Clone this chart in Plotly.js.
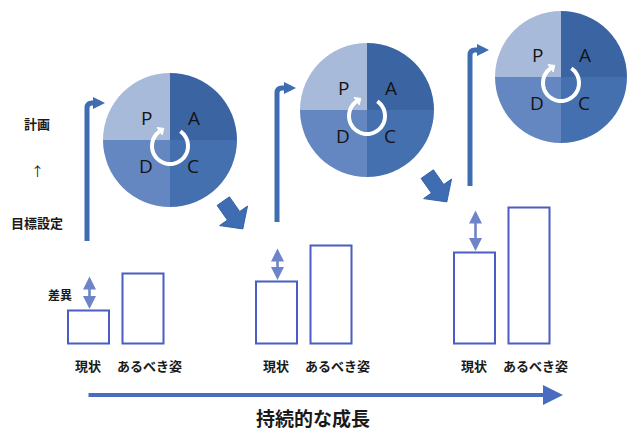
<!DOCTYPE html>
<html><head><meta charset="utf-8">
<script src="https://cdn.plot.ly/plotly-3.0.1.min.js"></script>
<style>html,body{margin:0;padding:0;background:#fff}</style>
</head><body><div id="chart" style="width:627px;height:432px"></div>
<script>
// ---- data ----
const stages = ['1', '2', '3'];
const currentLevel = [33, 62, 91];
const idealLevel = [70, 98, 136];
const barLabels = ['現状', 'あるべき姿'];
const pdcaLabels = ['A', 'C', 'D', 'P'];
const pdcaValues = [1, 1, 1, 1];
const gapLabel = '差異';
const sideLabels = ['計画', '↑', '目標設定'];
const growthLabel = '持続的な成長';

// ---- layout geometry (pixels) ----
const W = 627, H = 432, BASE = 343.5;
const Y = p => BASE - p;
const curX = [88.5, 276.5, 474.5];
const idealX = [143, 331, 529];
const barW = 41;
const pies = [{cx:170, cy:140, r:67}, {cx:367, cy:110, r:67}, {cx:561, cy:77, r:66}];
const bent = [{x:87, bot:241, top:103, end:105}, {x:277, bot:222, top:88, end:296}, {x:470, bot:186, top:50, end:489}];
const blocks = [{cx:233, cy:215}, {cx:437, cy:188}];
const pieColors = ['#3b64a3', '#4570b0', '#6587c1', '#a8bad9'];
const blue = '#3e6db2';
const rectBlue = '#4b5cc2';
const gapBlue = '#6d85c8';
const JP = '"Noto Sans CJK JP", "Noto Sans", sans-serif';

const traces = [
  {type:'bar', x:curX, y:currentLevel, width:barW, name:barLabels[0], text:stages, textposition:'none',
   marker:{color:'#ffffff', line:{color:rectBlue, width:2}}, hoverinfo:'skip'},
  {type:'bar', x:idealX, y:idealLevel, width:barW, name:barLabels[1], text:stages, textposition:'none',
   marker:{color:'#ffffff', line:{color:rectBlue, width:2}}, hoverinfo:'skip'}
];
pies.forEach(p => {
  traces.push({type:'pie', values:pdcaValues, labels:pdcaLabels, sort:false, direction:'clockwise', rotation:0,
    textinfo:'none', hoverinfo:'skip', marker:{colors:pieColors, line:{width:0}},
    domain:{x:[(p.cx - p.r)/W, Math.min(1, (p.cx + p.r)/W)], y:[1 - (p.cy + p.r)/H, 1 - (p.cy - p.r)/H]}});
});

const shapes = [];
const annotations = [];

// bent vertical arrows
bent.forEach(b => {
  shapes.push({type:'path', layer:'above', xref:'x', yref:'y',
    path:`M ${b.x} ${Y(b.bot)} L ${b.x} ${Y(b.top + 5)} Q ${b.x} ${Y(b.top)} ${b.x + 5} ${Y(b.top)} L ${b.end - 5} ${Y(b.top)}`,
    line:{color:blue, width:5}});
  annotations.push({x:b.end, y:Y(b.top), ax:b.end - 8, ay:Y(b.top), xref:'x', yref:'y', axref:'x', ayref:'y',
    text:'', showarrow:true, arrowhead:2, arrowsize:1, arrowwidth:2.4, arrowcolor:blue, standoff:0, startstandoff:0});
});

// block arrows
blocks.forEach(c => {
  const th = 55 * Math.PI / 180, L2 = 17, hl = 16, hw = 17, sw = 7.5;
  const pts = [[-L2, -sw], [L2 - hl, -sw], [L2 - hl, -hw], [L2, 0], [L2 - hl, hw], [L2 - hl, sw], [-L2, sw]];
  const d = pts.map((q, i) => {
    const px = c.cx + q[0]*Math.cos(th) - q[1]*Math.sin(th);
    const py = c.cy + q[0]*Math.sin(th) + q[1]*Math.cos(th);
    return (i ? 'L ' : 'M ') + px.toFixed(1) + ' ' + Y(py).toFixed(1);
  }).join(' ') + ' Z';
  shapes.push({type:'path', layer:'above', xref:'x', yref:'y', path:d, fillcolor:blue, line:{color:'#3563a8', width:1}});
});

// pie decorations: white cycle ring and letters
const letterOff = {P:[-24, -22], A:[24, -22], D:[-24, 26], C:[23, 26]};
pies.forEach(p => {
  const rc = {x:p.cx, y:p.cy + 6}, r = 18;
  let d = '';
  for (let a = -55; a <= 235; a += 5) {
    const t = a * Math.PI / 180;
    d += (d ? ' L ' : 'M ') + (rc.x + r*Math.cos(t)).toFixed(1) + ' ' + Y(rc.y + r*Math.sin(t)).toFixed(1);
  }
  shapes.push({type:'path', layer:'above', xref:'x', yref:'y', path:d, line:{color:'#ffffff', width:4}});
  // small head at 11 o'clock end
  const t = 235 * Math.PI / 180;
  const ex = rc.x + r*Math.cos(t), ey = rc.y + r*Math.sin(t);
  const tx = -Math.sin(t), ty = Math.cos(t), nx = Math.cos(t), ny = Math.sin(t);
  const hp = [[ex + tx*5, ey + ty*5], [ex + nx*4.5, ey + ny*4.5], [ex - nx*4.5, ey - ny*4.5]];
  shapes.push({type:'path', layer:'above', xref:'x', yref:'y',
    path:`M ${hp[0][0]} ${Y(hp[0][1])} L ${hp[1][0]} ${Y(hp[1][1])} L ${hp[2][0]} ${Y(hp[2][1])} Z`,
    fillcolor:'#ffffff', line:{color:'#ffffff', width:1}});
  pdcaLabels.forEach(l => {
    annotations.push({x:p.cx + letterOff[l][0], y:Y(p.cy + letterOff[l][1]), xref:'x', yref:'y', text:l, showarrow:false,
      font:{family:'"Open Sans", "Noto Sans", sans-serif', size:19, color:'#141414'}});
  });
});

// gap arrows and bar labels
stages.forEach((s, i) => {
  annotations.push({x:curX[i] + 1, y:idealLevel[i] - 3, ax:curX[i] + 1, ay:currentLevel[i], xref:'x', yref:'y', axref:'x', ayref:'y',
    text:'', showarrow:true, arrowhead:2, arrowside:'end+start', arrowsize:1, arrowwidth:2.6, arrowcolor:gapBlue, standoff:0, startstandoff:0});
  annotations.push({x:curX[i] - 1, y:Y(365), xref:'x', yref:'y', text:'<b>' + barLabels[0] + '</b>', showarrow:false,
    font:{family:JP, size:13, color:'#1a1a1a'}});
  annotations.push({x:idealX[i] + 6, y:Y(365), xref:'x', yref:'y', text:'<b>' + barLabels[1] + '</b>', showarrow:false,
    font:{family:JP, size:13, color:'#1a1a1a'}});
});
annotations.push({x:60, y:Y(294), xref:'x', yref:'y', text:'<b>' + gapLabel + '</b>', showarrow:false,
  font:{family:JP, size:12, color:'#1a1a1a'}});

// side labels
const sideY = [123, 170, 222];
sideLabels.forEach((t, i) => {
  annotations.push({x:37, y:Y(sideY[i]), xref:'x', yref:'y', text: i === 1 ? t : '<b>' + t + '</b>', showarrow:false,
    font:{family:JP, size:13, color:'#1a1a1a'}});
});

// growth arrow and label
annotations.push({x:563, y:Y(395), ax:87, ay:Y(395), xref:'x', yref:'y', axref:'x', ayref:'y', text:'', showarrow:true,
  arrowhead:2, arrowsize:1, arrowwidth:4, arrowcolor:'#4a6cc0', standoff:0, startstandoff:0});
annotations.push({x:313, y:Y(417), xref:'x', yref:'y', text:'<b>' + growthLabel + '</b>', showarrow:false,
  font:{family:JP, size:19, color:'#1a1a1a'}});

const layout = {
  width:W, height:H, margin:{l:0, r:0, t:0, b:0, pad:0},
  paper_bgcolor:'#ffffff', plot_bgcolor:'#ffffff', showlegend:false,
  xaxis:{range:[0, W], visible:false, fixedrange:true},
  yaxis:{range:[Y(H), Y(0)], visible:false, fixedrange:true},
  shapes:shapes, annotations:annotations
};
Plotly.newPlot('chart', traces, layout, {displayModeBar:false, staticPlot:true});
</script></body></html>
